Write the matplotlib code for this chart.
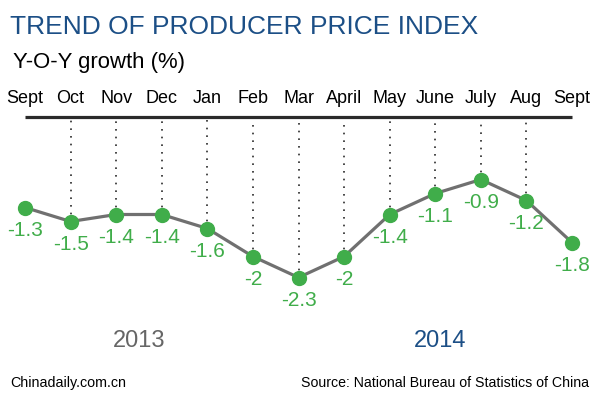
import matplotlib
matplotlib.use("Agg")
import matplotlib.pyplot as plt

plt.rcParams["font.family"] = ["Liberation Sans", "DejaVu Sans"]

months = ["Sept", "Oct", "Nov", "Dec", "Jan", "Feb", "Mar", "April",
          "May", "June", "July", "Aug", "Sept"]
ppi_yoy = [-1.3, -1.5, -1.4, -1.4, -1.6, -2.0, -2.3, -2.0,
           -1.4, -1.1, -0.9, -1.2, -1.8]
value_labels = ["-1.3", "-1.5", "-1.4", "-1.4", "-1.6", "-2", "-2.3", "-2",
                "-1.4", "-1.1", "-0.9", "-1.2", "-1.8"]
years = ["2013", "2014"]
year_pos = [2.5, 9.1]          # centre of each year label, in month index

BLUE = "#1c4f86"
GREEN = "#40ad4a"
GREY_LINE = "#707070"
DARK = "#2a2a2a"

W, H = 600, 398
fig = plt.figure(figsize=(W / 100, H / 100), dpi=100, facecolor="white")
ax = fig.add_axes([0, 0, 1, 1])
ax.set_facecolor("white")

# px scale: index 0 -> x=25, index 12 -> x=572 ; y=0 -> px 116.5, 70 px per unit
xs = (572 - 25) / 12
ax.set_xlim(-25 / xs, 12 + (W - 572) / xs)
ax.set_ylim(-(H - 116.5) / 70, 116.5 / 70)
ax.axis("off")

idx = list(range(len(months)))

# top rule
ax.hlines(0, 0, 12, color=DARK, lw=2.3, zorder=2)

# dotted drop lines (interior months only)
for i in idx[1:-1]:
    ax.vlines(i, ppi_yoy[i], -0.04, color=DARK, lw=1.2,
              linestyle=(0, (1, 3.6)), zorder=1)

ax.plot(idx, ppi_yoy, color=GREY_LINE, lw=2.3, zorder=3)
ax.plot(idx, ppi_yoy, "o", color=GREEN, ms=10, mec=GREEN, zorder=4)

for i, m in enumerate(months):
    ax.text(i, 0.193, m, ha="center", va="baseline", fontsize=13, color="black")

for i, (v, lab) in enumerate(zip(ppi_yoy, value_labels)):
    ax.annotate(lab, (i, v), xytext=(0, -20.5), textcoords="offset points",
                ha="center", va="baseline", fontsize=15, color=GREEN)

ax.text(year_pos[0], -(347 - 116.5) / 70, years[0], ha="center", va="baseline",
        fontsize=17, color="#666666")
ax.text(year_pos[1], -(347 - 116.5) / 70, years[1], ha="center", va="baseline",
        fontsize=17, color=BLUE)

fig.text(10 / W, 1 - 34 / H, "TREND OF PRODUCER PRICE INDEX", ha="left",
         va="baseline", fontsize=19, color=BLUE)
fig.text(13 / W, 1 - 68 / H, "Y-O-Y growth (%)", ha="left", va="baseline",
         fontsize=15.9, color="black")
fig.text(10 / W, 1 - 387 / H, "Chinadaily.com.cn", ha="left", va="baseline",
         fontsize=10.3, color="black")
fig.text(589 / W, 1 - 387 / H, "Source: National Bureau of Statistics of China",
         ha="right", va="baseline", fontsize=10.2, color="black")

fig.savefig("out.png", dpi=100, facecolor="white")
